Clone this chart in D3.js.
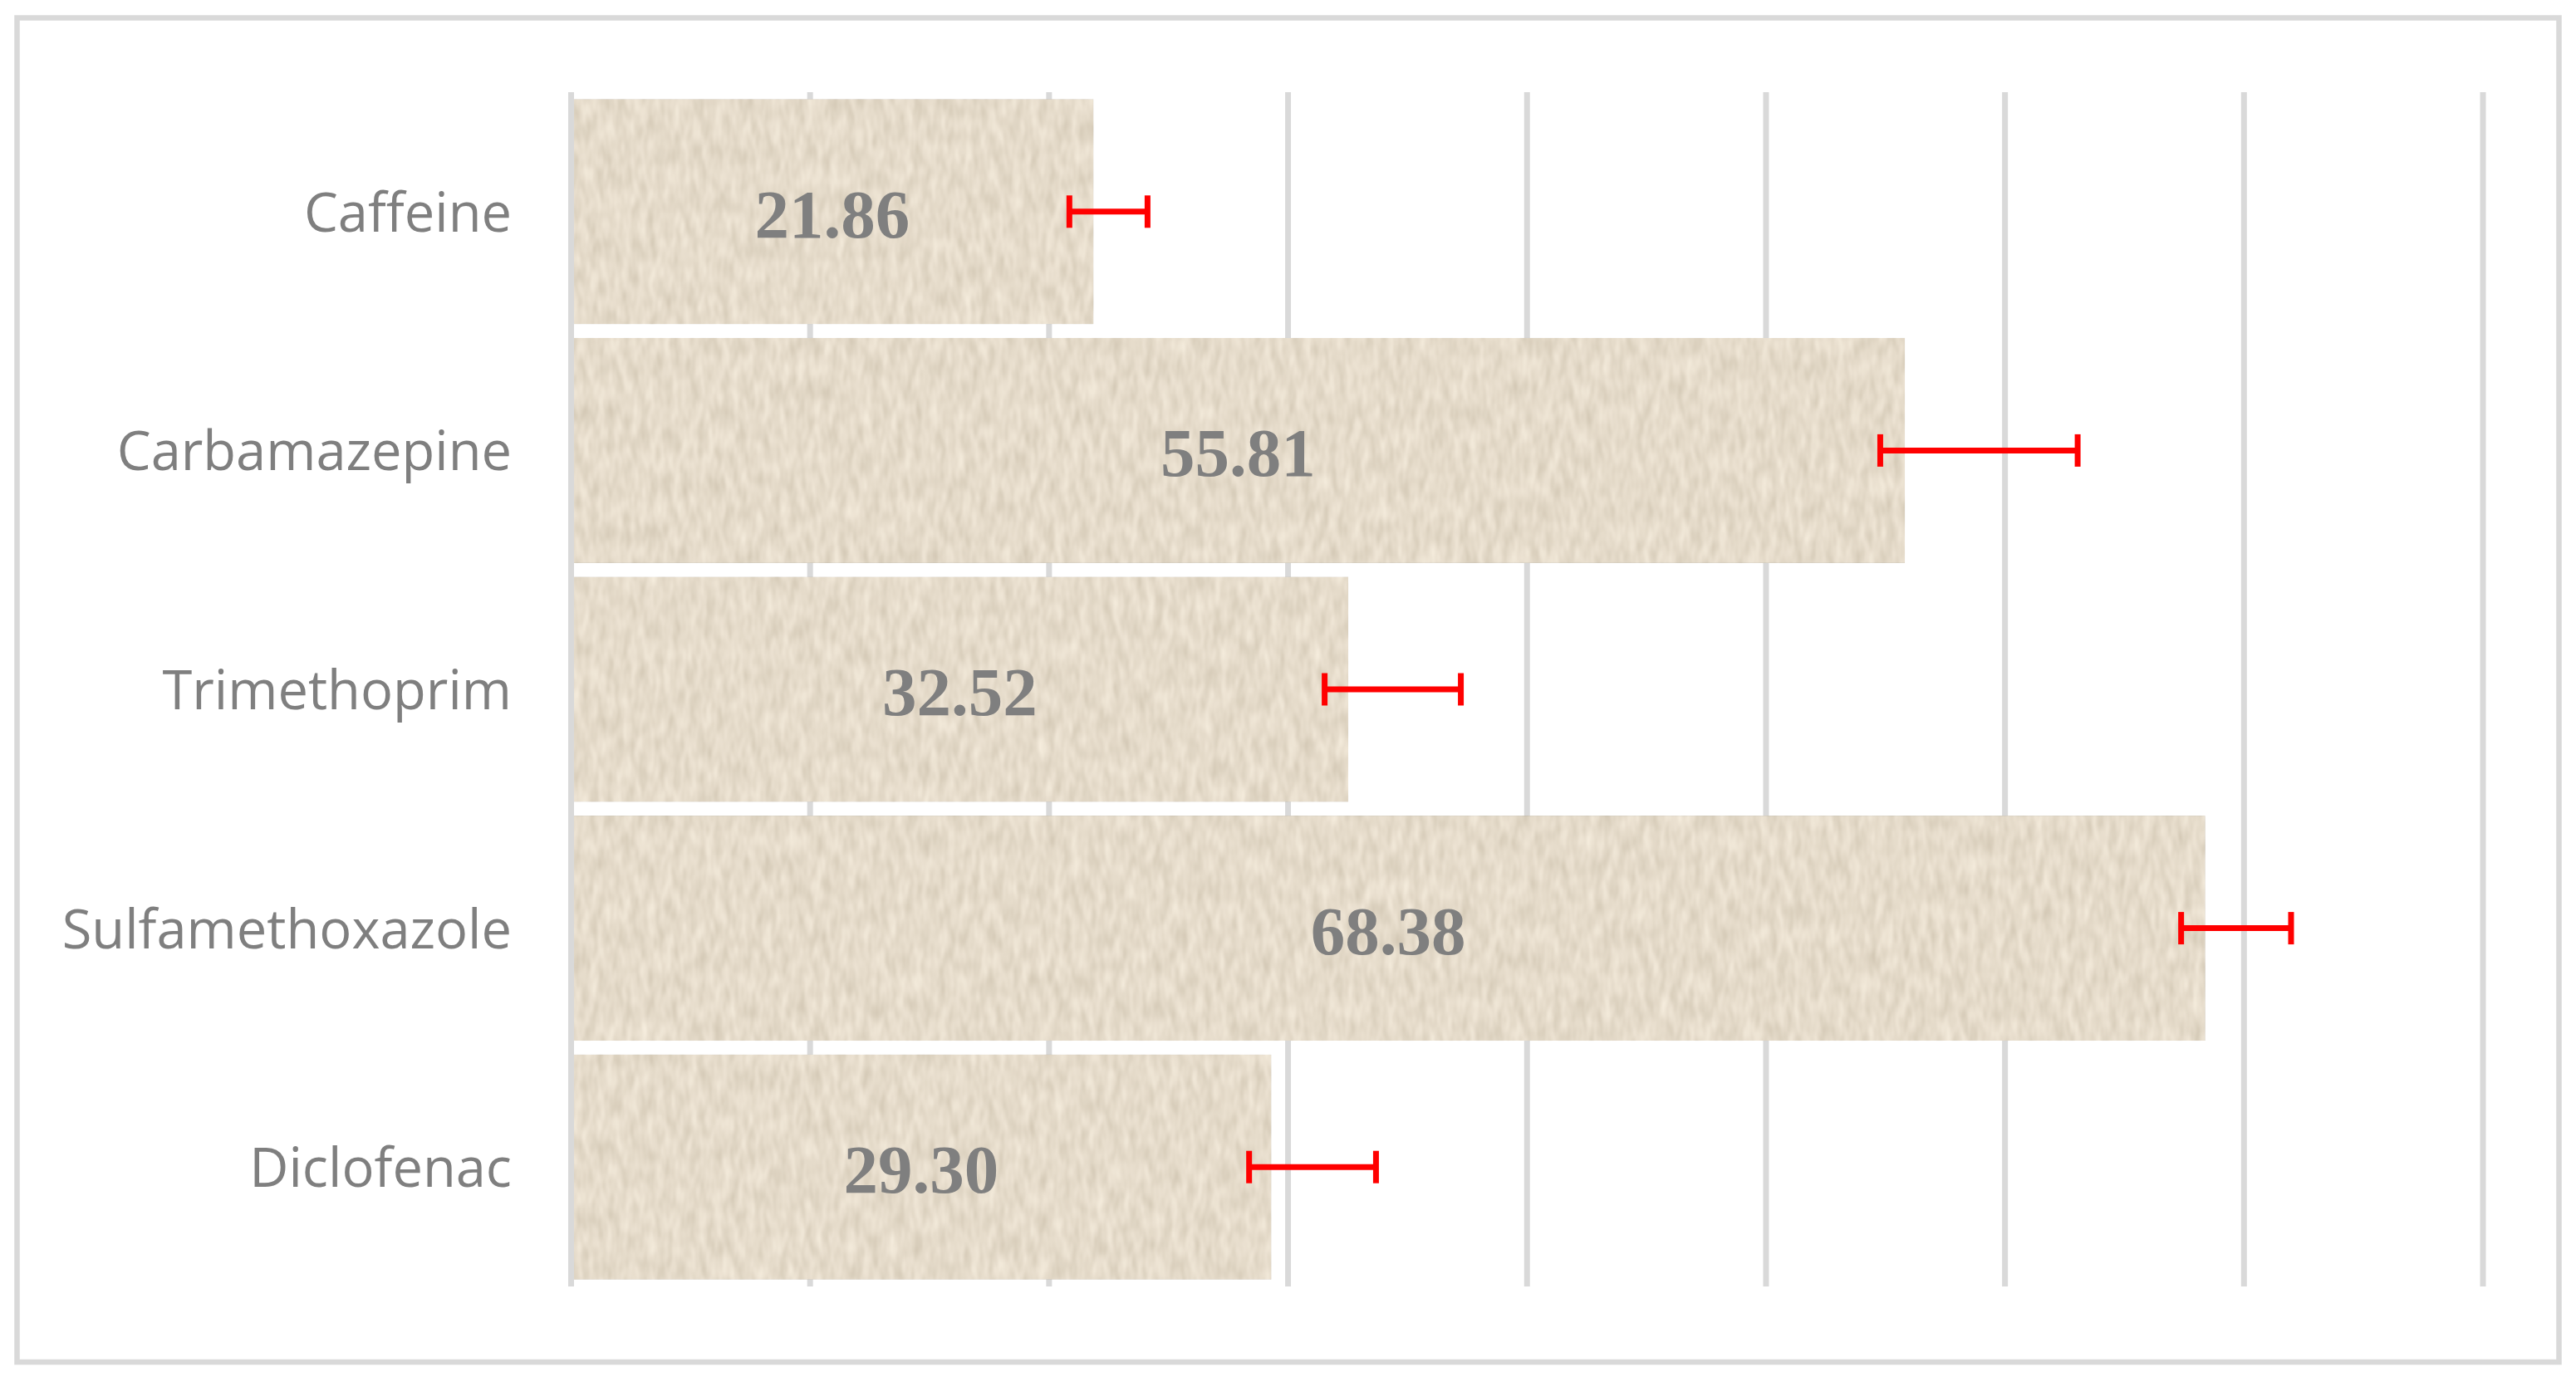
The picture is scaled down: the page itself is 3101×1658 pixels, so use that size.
<!DOCTYPE html>
<html>
<head>
<meta charset="utf-8">
<script src="https://cdnjs.cloudflare.com/ajax/libs/d3/7.8.5/d3.min.js"></script>
<style>
  html, body { margin: 0; padding: 0; background: #fff; }
  svg { display: block; }
</style>
</head>
<body>
<div id="chart"></div>
<script>
// data
var compounds = ["Caffeine", "Carbamazepine", "Trimethoprim", "Sulfamethoxazole", "Diclofenac"];
var values = [21.86, 55.81, 32.52, 68.38, 29.30];
var errLow = [20.85, 54.78, 31.53, 67.37, 28.37];
var errHigh = [24.12, 63.04, 37.23, 71.97, 33.68];
var xTicks = [0, 10, 20, 30, 40, 50, 60, 70, 80];

var width = 3101, height = 1658;
var margin = {top: 111, right: 112, bottom: 109, left: 687.5};
var gridColor = "#d9d9d9";
var textColor = "#7f7f7f";

var svg = d3.select("#chart").append("svg")
    .attr("width", width)
    .attr("height", height);

// paper-like texture for the bars
var defs = svg.append("defs");
var tex = defs.append("filter")
    .attr("id", "paper")
    .attr("x", 0).attr("y", 0).attr("width", 1).attr("height", 1);
tex.append("feTurbulence")
    .attr("type", "fractalNoise")
    .attr("baseFrequency", "0.1 0.035")
    .attr("numOctaves", 2)
    .attr("seed", 7)
    .attr("result", "noise");
tex.append("feColorMatrix")
    .attr("in", "noise")
    .attr("type", "matrix")
    .attr("values", "1 0 0 0 0  1 0 0 0 0  1 0 0 0 0  0 0 0 0 1")
    .attr("result", "grey");
tex.append("feComposite")
    .attr("in", "SourceGraphic")
    .attr("in2", "grey")
    .attr("operator", "arithmetic")
    .attr("k1", 0).attr("k2", 1).attr("k3", 0.3).attr("k4", -0.15)
    .attr("result", "mix");
tex.append("feComposite")
    .attr("in", "mix")
    .attr("in2", "SourceGraphic")
    .attr("operator", "in");

// outer frame
svg.append("rect")
    .attr("x", 20.5).attr("y", 21.5)
    .attr("width", 3060).attr("height", 1618.5)
    .attr("fill", "#fff")
    .attr("stroke", gridColor)
    .attr("stroke-width", 6.5);

var x = d3.scaleLinear()
    .domain([0, 80])
    .range([margin.left, width - margin.right]);

var y = d3.scaleBand()
    .domain(compounds)
    .range([margin.top, height - margin.bottom])
    .paddingInner(0.058)
    .paddingOuter(0.029);

// vertical gridlines
svg.append("g")
    .selectAll("line")
    .data(xTicks.slice(1))
    .enter().append("line")
    .attr("x1", function(d) { return x(d); })
    .attr("x2", function(d) { return x(d); })
    .attr("y1", margin.top)
    .attr("y2", height - margin.bottom)
    .attr("stroke", gridColor)
    .attr("stroke-width", 7);

// bars
svg.append("g")
    .attr("filter", "url(#paper)")
    .selectAll("rect")
    .data(values)
    .enter().append("rect")
    .attr("x", x(0))
    .attr("y", function(d, i) { return y(compounds[i]); })
    .attr("width", function(d) { return x(d) - x(0); })
    .attr("height", y.bandwidth())
    .attr("fill", "#e5dbca");

// category axis line
svg.append("line")
    .attr("x1", x(0)).attr("x2", x(0))
    .attr("y1", margin.top)
    .attr("y2", height - margin.bottom)
    .attr("stroke", gridColor)
    .attr("stroke-width", 7);

// category labels
svg.append("g")
    .selectAll("text")
    .data(compounds)
    .enter().append("text")
    .attr("x", 616)
    .attr("y", function(d) { return y(d) + y.bandwidth() / 2 + 24; })
    .attr("text-anchor", "end")
    .attr("fill", textColor)
    .style("font-family", "'Open Sans', 'Noto Sans', sans-serif")
    .style("font-size", "65px")
    .text(function(d) { return d; });

// value labels
svg.append("g")
    .selectAll("text")
    .data(values)
    .enter().append("text")
    .attr("x", function(d) { return (x(0) + x(d)) / 2; })
    .attr("y", function(d, i) { return y(compounds[i]) + y.bandwidth() / 2 + 31; })
    .attr("text-anchor", "middle")
    .attr("fill", textColor)
    .style("font-family", "'Liberation Serif', serif")
    .style("font-weight", "bold")
    .style("font-size", "83px")
    .text(function(d) { return d.toFixed(2); });

// error bars
var err = svg.append("g")
    .attr("stroke", "#ff0000")
    .attr("stroke-width", 7)
    .selectAll("g")
    .data(values)
    .enter().append("g");

err.append("line")
    .attr("x1", function(d, i) { return x(errLow[i]); })
    .attr("x2", function(d, i) { return x(errHigh[i]); })
    .attr("y1", function(d, i) { return y(compounds[i]) + y.bandwidth() / 2; })
    .attr("y2", function(d, i) { return y(compounds[i]) + y.bandwidth() / 2; });

err.selectAll("line.cap")
    .data(function(d, i) { return [[errLow[i], i], [errHigh[i], i]]; })
    .enter().append("line")
    .attr("class", "cap")
    .attr("x1", function(d) { return x(d[0]); })
    .attr("x2", function(d) { return x(d[0]); })
    .attr("y1", function(d) { return y(compounds[d[1]]) + y.bandwidth() / 2 - 19.5; })
    .attr("y2", function(d) { return y(compounds[d[1]]) + y.bandwidth() / 2 + 19.5; });
</script>
</body>
</html>
